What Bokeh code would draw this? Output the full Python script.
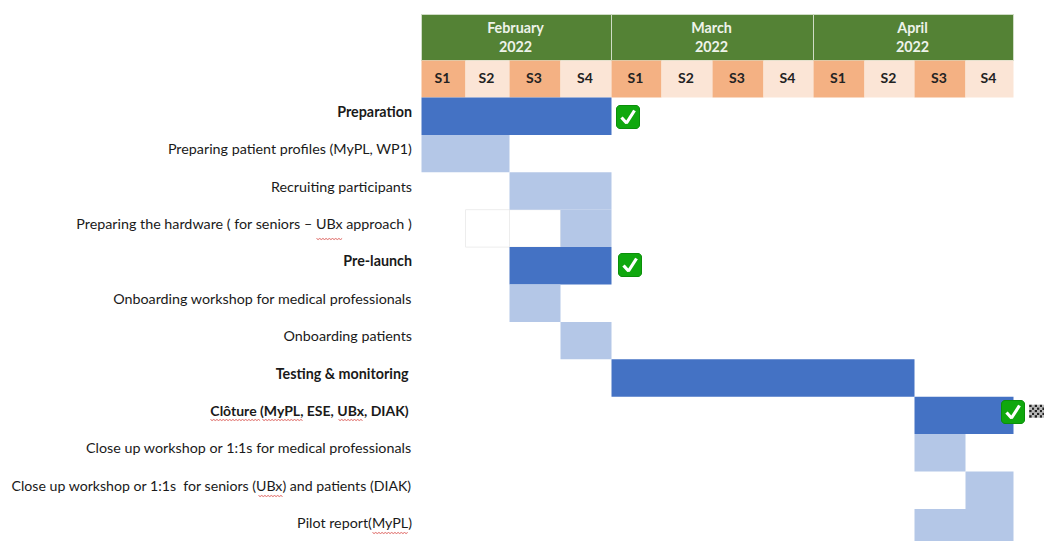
import numpy as np
from bokeh.embed import file_html
from bokeh.models import Range1d
from bokeh.plotting import figure
from bokeh.resources import INLINE
from bokeh.core.properties import value

# Gantt content
months = ["February\n2022", "March\n2022", "April\n2022"]
weeks = ["S1", "S2", "S3", "S4"] * 3
tasks = [
    "Preparation",
    "Preparing patient profiles (MyPL, WP1)",
    "Recruiting participants",
    "Preparing the hardware ( for seniors – UBx approach )",
    "Pre-launch",
    "Onboarding workshop for medical professionals",
    "Onboarding patients",
    "Testing & monitoring\u00a0",
    "Clôture (MyPL, ESE, UBx, DIAK)\u00a0",
    "Close up workshop or 1:1s for medical professionals",
    "Close up workshop or 1:1s \u00a0for seniors (UBx) and patients (DIAK)",
    "Pilot report(MyPL)",
]
start_week = [0, 0, 2, 3, 2, 2, 3, 4, 10, 10, 11, 10]
end_week = [4, 2, 4, 4, 4, 3, 4, 10, 12, 11, 12, 12]
is_phase = [True, False, False, False, True, False, False, True, True, False, False, False]
done_centres = [627.5, 629.5, 1012.5]
done_middles = [116.5, 264.5, 411.5]

# Page geometry, in pixels
week_edges = np.array([421, 465, 509, 560, 611, 661, 712, 763, 813, 864, 914, 965, 1013])
row_top, row_h = 97, 37.4
label_sizes = ["14.3px"] * 12
label_sizes[8] = "14px"
label_sizes[10] = "14.15px"
FONT = value("Lato")
BLUE, LIGHT_BLUE = "#4472C4", "#B4C7E7"
GREEN, HEAD_TEXT = "#548235", "#EEF3EA"
ORANGE, PEACH = "#F4B183", "#FBE5D6"

p = figure(width=1044, height=541, output_backend="svg", toolbar_location=None,
           x_range=Range1d(0, 1044), y_range=Range1d(541, 0),
           min_border=0, outline_line_color=None, background_fill_color="white",
           border_fill_color="white")
p.axis.visible = False
p.grid.visible = False

row_y = lambda r: row_top + row_h * np.asarray(r, dtype=float)

# Month header band
m_left = week_edges[[0, 4, 8]]
m_right = week_edges[[4, 8, 12]]
p.quad(left=m_left, right=m_right, top=14, bottom=60, fill_color=GREEN,
       line_color="#CFDCC5", line_width=1)
for name, l, r in zip(months, m_left, m_right):
    first, second = name.split("\n")
    for label, y in ((first, 27), (second, 45.5)):
        p.text([(l + r) / 2 - 1], [y], text=[label], text_font=FONT, text_font_size="14.3px",
               text_font_style="bold", text_color=HEAD_TEXT, text_align="center",
               text_baseline="middle")

# Week cells
week_colors = [ORANGE if i % 2 == 0 else PEACH for i in range(12)]
p.quad(left=week_edges[:-1], right=week_edges[1:], top=60, bottom=row_top,
       fill_color=week_colors, line_color=None)
p.text((week_edges[:-1] + week_edges[1:]) / 2 - 1, [77] * 12, text=weeks, text_font=FONT,
       text_font_size="14px", text_font_style="bold", text_color="#222222",
       text_align="center", text_baseline="middle")

# Faint empty cells on the hardware row
p.quad(left=week_edges[[1, 2]], right=week_edges[[2, 3]], top=row_y(3), bottom=row_y(4),
       fill_color="white", line_color="#EDEDED", line_width=1)

# Task bars
rows = np.arange(len(tasks))
p.quad(left=week_edges[start_week], right=week_edges[end_week],
       top=row_y(rows), bottom=row_y(rows + 1),
       fill_color=[BLUE if ph else LIGHT_BLUE for ph in is_phase], line_color=None)

# Task labels
for r, (task, ph, size) in enumerate(zip(tasks, is_phase, label_sizes)):
    p.text([411.5], [row_y(r) + 13.7], text=[task], text_font=FONT, text_font_size=size,
           text_font_style="bold" if ph else "normal", text_color="#1A1A1A",
           text_align="right", text_baseline="middle")

# Spell-check squiggles beneath flagged words
squiggles = [(238, 316, 342), (419, 210, 260), (419, 262, 302), (419, 338, 363),
             (495, 258, 283), (532, 372, 408)]
for y, x0, x1 in squiggles:
    xs = np.arange(x0, x1 + 0.1, 1.6)
    ys = y + 1.0 * (np.arange(len(xs)) % 2)
    p.line(xs, ys, line_color="#D9534F", line_width=0.9)

# Completion tick marks
def tick_mark(cx, cy, s=11.5, rad=3.5):
    a = np.linspace(0, np.pi / 2, 6)
    cs = [(cx + s - rad, cy - s + rad, -np.pi / 2), (cx + s - rad, cy + s - rad, 0),
          (cx - s + rad, cy + s - rad, np.pi / 2), (cx - s + rad, cy - s + rad, np.pi)]
    xs = np.concatenate([c[0] + rad * np.cos(a + c[2]) for c in cs])
    ys = np.concatenate([c[1] + rad * np.sin(a + c[2]) for c in cs])
    p.patch(xs, ys, fill_color="#10A80E", line_color="#0B8F0A", line_width=1)
    p.line([cx - 6.5, cx - 1.5, cx + 6.5], [cy + 0.5, cy + 6, cy - 6.5],
           line_color="white", line_width=3.2)

for cx, cy in zip(done_centres, done_middles):
    tick_mark(cx, cy)

# Chequered finish flag beside the last tick
cols, lines = np.meshgrid(np.arange(6), np.arange(5))
mask = (cols + lines) % 2 == 0
p.rect(1030 + cols[mask] * 2.6, 405.5 + lines[mask] * 2.6, width=2.6, height=2.6,
       fill_color="#222222", line_color=None)
p.rect(1030 + cols[~mask] * 2.6, 405.5 + lines[~mask] * 2.6, width=2.6, height=2.6,
       fill_color="#BBBBBB", line_color=None)

open("out.html", "w").write(file_html(p, INLINE))
